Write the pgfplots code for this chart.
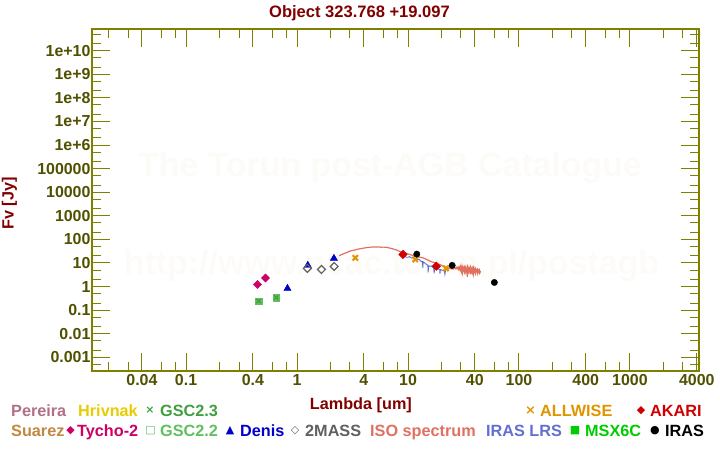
\documentclass[border=0pt]{standalone}
\usepackage{pgfplots}
\pgfplotsset{compat=1.18}
\usepackage{fontspec}
\setmainfont{Liberation Sans}
\newfontfamily\symfont{DejaVu Sans}
\definecolor{olv}{HTML}{808000}
\definecolor{tickc}{HTML}{505000}
\definecolor{dred}{HTML}{800000}
\definecolor{wm}{HTML}{FCFBF7}
\definecolor{cPereira}{HTML}{B07088}
\definecolor{cHrivnak}{HTML}{E6CC00}
\definecolor{cGSCa}{HTML}{40A040}
\definecolor{cGSCb}{HTML}{60C060}
\definecolor{cALLWISE}{HTML}{E09400}
\definecolor{cAKARI}{HTML}{D00000}
\definecolor{cSuarez}{HTML}{C08840}
\definecolor{cTycho}{HTML}{CC0066}
\definecolor{cDenis}{HTML}{0000CC}
\definecolor{cTWOM}{HTML}{606060}
\definecolor{cISO}{HTML}{E07060}
\definecolor{cLRS}{HTML}{6070D0}
\definecolor{cMSX}{HTML}{00CC00}
\definecolor{cIRAS}{HTML}{000000}

\pgfplotstableread{
x y
2.40 20.5
2.55 23
2.70 26
2.85 28.5
3.00 32
3.20 34
3.40 36.5
3.67 40
3.90 42
4.20 44.5
4.50 46
4.80 47.5
5.10 47
5.40 48
5.70 46.5
6.00 47
6.40 46
6.80 43
7.20 40.5
7.50 38
7.80 36
8.20 32.5
8.70 29
9.20 27
9.70 25.5
10.3 23
11.0 21
11.8 19.5
12.5 17.8
13.6 16.6
14.5 14.5
15.5 12.5
16.5 11
17.9 9.8
19.0 8.8
20.0 8.0
21.0 7.0
22.0 6.5
22.8 6.1
23.5 5.8
24.0 6.0
24.5 5.6
25.0 5.9
25.5 5.5
26.0 6.0
26.5 6.3
27.0 5.6
27.4 6.4
27.8 5.8
28.2 6.7
28.6 5.4
29.0 6.5
29.4 5.2
29.8 6.9
30.2 4.5
30.6 6.6
31.0 4.0
31.4 6.3
31.8 5.0
32.2 6.2
32.6 3.2
33.0 6.0
33.4 4.8
33.8 5.9
34.2 2.6
34.6 5.8
35.0 4.3
35.4 5.7
35.8 4.6
36.2 5.9
36.6 3.3
37.0 5.6
37.4 4.4
37.8 5.5
38.2 4.0
38.6 5.4
39.0 3.6
39.4 5.5
39.8 4.5
40.2 5.3
40.6 3.9
41.0 5.2
41.4 4.6
41.8 5.0
42.2 3.8
42.6 4.9
43.0 4.3
43.4 4.8
43.8 3.9
44.2 4.7
44.6 4.0
45.0 4.5
}\isotab

\pgfplotstableread{
x y
8.6 21
9.0 19.5
9.3 19.5
9.6 17.5
10.0 17.5
10.3 18.5
10.7 16.5
11.0 16.5
11.3 17
11.6 15.5
11.9 15.6
12.2 14.2
12.6 14
12.9 12.8
13.2 11.2
13.5 11.5
13.6 6.2
13.7 11.2
14.0 10.5
14.4 9.2
14.8 8.5
15.1 8.0
15.2 4.0
15.3 7.6
15.8 7.2
16.2 7.5
16.6 6.6
17.0 6.4
17.2 3.6
17.4 6.2
17.9 5.9
18.4 5.6
18.9 5.5
19.3 5.4
19.4 3.5
19.6 5.3
20.2 5.0
20.8 4.7
21.3 4.6
21.5 3.3
21.8 4.9
}\lrstab

\begin{document}
\begin{tikzpicture}
\path[use as bounding box] (0bp,0bp) rectangle (720bp,450bp);
\node[anchor=base, text=wm, font=\fontsize{34}{34}\selectfont\bfseries, inner sep=0pt] at (390bp,273bp) {The Torun post-AGB Catalogue};
\node[anchor=base, text=wm, font=\fontsize{34}{34}\selectfont\bfseries, inner sep=0pt] at (391.5bp,175bp) {http://www.ncac.torun.pl/postagb};
\begin{axis}[
  at={(92bp,79bp)}, anchor=south west,
  scale only axis, width=607bp, height=342bp,
  xmode=log, ymode=log,
  xmin=0.0142, xmax=4190, ymin=2.62e-4, ymax=8.34e10,
  axis line style={draw=olv, line width=1.3bp},
  tick style={draw=olv, line width=1bp},
  tick align=inside,
  major tick length=18bp, minor tick length=9bp,
  xtick={0.04,0.1,0.4,1,4,10,40,100,400,1000,4000},
  xticklabels={0.04,0.1,0.4,1,4,10,40,100,400,1000,4000},
  minor xtick={0.02,0.03,0.06,0.08,0.2,0.3,0.6,0.8,2,3,6,8,20,30,60,80,200,300,600,800,2000,3000},
  ytick={1e-3,1e-2,1e-1,1,10,100,1000,1e4,1e5,1e6,1e7,1e8,1e9,1e10},
  yticklabels={0.001,0.01,0.1,1,10,100,1000,10000,100000,1e+6,1e+7,1e+8,1e+9,1e+10},
  minor ytick={5e-4,2e-3,5e-3,2e-2,5e-2,0.2,0.5,2,5,20,50,200,500,2e3,5e3,2e4,5e4,2e5,5e5,2e6,5e6,2e7,5e7,2e8,5e8,2e9,5e9,2e10,5e10},
  tick label style={font=\fontsize{16}{16}\selectfont\bfseries, text=tickc},
  yticklabel style={xshift=2bp},
  every axis title shift=0pt,
  title={Object 323.768 +19.097},
  title style={at={(axis description cs:0.4407,1.035)}, anchor=base, font=\fontsize{16.6}{16.6}\selectfont\bfseries, text=dred, inner sep=0pt},
  xlabel={Lambda [um]},
  xlabel style={at={(axis description cs:0.443,-0.112)}, anchor=base, font=\fontsize{16.3}{16.3}\selectfont\bfseries, text=dred, inner sep=0pt},
  ylabel={Fv [Jy]},
  ylabel style={at={(axis description cs:-0.1293,0.490)}, anchor=base, rotate=0, font=\fontsize{16.3}{16.3}\selectfont\bfseries, text=dred, inner sep=0pt},
  clip=true,
]
\addplot[color=cISO, line width=1.2bp, mark=none] table[x=x,y=y] {\isotab};
\addplot[color=cLRS, line width=0.9bp, mark=none] table[x=x,y=y] {\lrstab};
% GSC2.2 squares
\addplot[only marks, mark=square*, mark size=3.4bp, color=cGSCb, mark options={fill=cGSCb, draw=cGSCb}] coordinates {(0.45,0.24) (0.65,0.34)};
% GSC2.3 crosses
\addplot[only marks, mark=x, mark size=3bp, color=cGSCa, mark options={line width=1.2bp}] coordinates {(0.45,0.24) (0.65,0.34)};
% Tycho-2
\addplot[only marks, mark=square*, mark size=2.9bp, color=cTycho, mark options={rotate=45, fill=cTycho}] coordinates {(0.44,1.22) (0.52,2.3)};
% Denis
\addplot[only marks, mark=triangle*, mark size=4.2bp, color=cDenis, mark options={fill=cDenis}] coordinates {(0.82,0.83) (1.25,7.9) (2.15,15.6)};
% 2MASS
\addplot[only marks, mark=square, mark size=2.8bp, color=cTWOM, mark options={rotate=45, line width=1.2bp}] coordinates {(1.24,5.9) (1.66,5.3) (2.16,7.1)};
% ALLWISE
\addplot[only marks, mark=x, mark size=3.8bp, color=cALLWISE, mark options={line width=2bp}] coordinates {(3.35,16.5) (11.6,14.1) (22,5.9)};
% AKARI
\addplot[only marks, mark=square*, mark size=3bp, color=cAKARI, mark options={rotate=45, fill=cAKARI}] coordinates {(9.0,23) (18,7.3)};
% IRAS
\addplot[only marks, mark=*, mark size=3.2bp, color=cIRAS, mark options={fill=cIRAS}] coordinates {(12,23.7) (25,7.9) (60,1.49)};
\end{axis}
% legend
\tikzset{lt/.style={anchor=base west, inner sep=0pt, font=\fontsize{16.3}{16.3}\selectfont\bfseries},
         ls/.style={anchor=center, inner sep=0pt, font=\symfont\fontsize{11}{11}\selectfont}}
\node[lt, text=cPereira] at (11bp,34bp) {Pereira};
\node[lt, text=cHrivnak] at (78bp,34bp) {Hrivnak};
\node[ls, text=cGSCa] at (150bp,39.5bp) {\bfseries ×};
\node[lt, text=cGSCa] at (160bp,34bp) {GSC2.3};
\node[ls, text=cALLWISE, font=\symfont\fontsize{13}{13}\selectfont] at (530.5bp,39.5bp) {\bfseries ×};
\node[lt, text=cALLWISE] at (540bp,34bp) {ALLWISE};
\node[ls, text=cAKARI] at (641bp,39.5bp) {◆};
\node[lt, text=cAKARI] at (650bp,34bp) {AKARI};
\node[lt, text=cSuarez] at (11bp,14bp) {Suarez};
\node[ls, text=cTycho] at (70.5bp,19.5bp) {◆};
\node[lt, text=cTycho] at (77bp,14bp) {Tycho-2};
\node[ls, text=cGSCb] at (150.5bp,19.5bp) {\bfseries □};
\node[lt, text=cGSCb] at (160bp,14bp) {GSC2.2};
\node[ls, text=cDenis] at (230bp,19.5bp) {▲};
\node[lt, text=cDenis] at (240bp,14bp) {Denis};
\node[ls, text=cTWOM] at (295bp,19.5bp) {\bfseries ◇};
\node[lt, text=cTWOM] at (305bp,14bp) {2MASS};
\node[lt, text=cISO] at (370bp,14bp) {ISO spectrum};
\node[lt, text=cLRS] at (486bp,14bp) {IRAS LRS};
\node[ls, text=cMSX] at (575bp,19.5bp) {■};
\node[lt, text=cMSX] at (585bp,14bp) {MSX6C};
\node[ls, text=cIRAS] at (655bp,19.5bp) {●};
\node[lt, text=cIRAS] at (665bp,14bp) {IRAS};
\end{tikzpicture}
\end{document}
